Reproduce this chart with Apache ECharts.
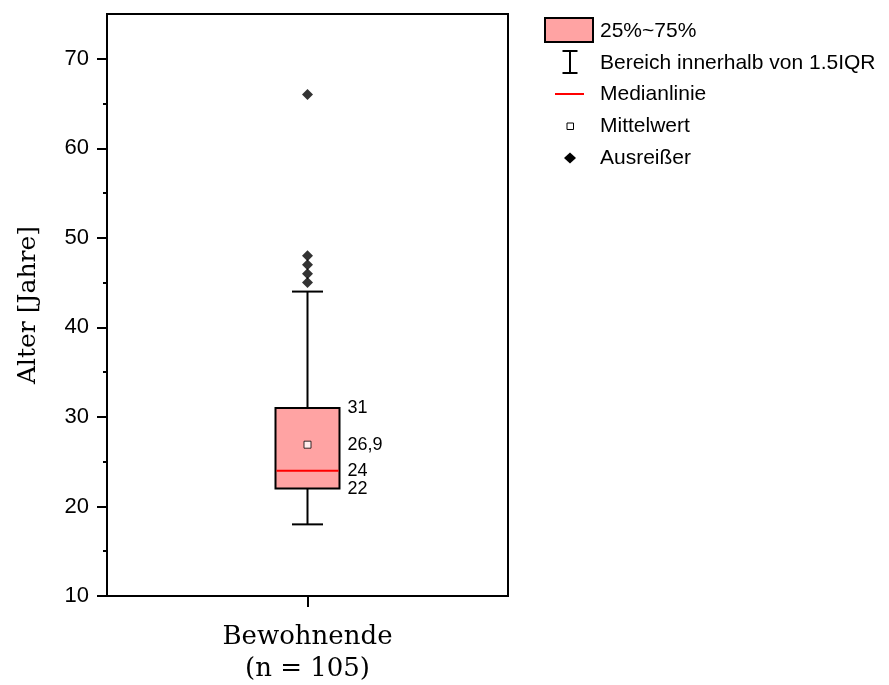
<!DOCTYPE html>
<html>
<head>
<meta charset="utf-8">
<script src="https://cdn.jsdelivr.net/npm/echarts@6/dist/echarts.min.js"></script>
<style>
  html, body { margin: 0; padding: 0; background: #fff; }
  #chart { width: 889px; height: 685px; }
</style>
</head>
<body>
<div id="chart"></div>
<script>
// Age distribution of residents
const categories = ['Bewohnende\n(n = 105)'];
const boxStats = [[18, 22, 24, 31, 44]];      // whisker low, Q1, median, Q3, whisker high
const meanValues = [26.9];
const outlierValues = [[45, 46, 47, 48, 66]];
const yMajorTicks = [10, 20, 30, 40, 50, 60, 70];
const yMinorTicks = [15, 25, 35, 45, 55, 65];
const legendLabels = ['25%~75%', 'Bereich innerhalb von 1.5IQR', 'Medianlinie', 'Mittelwert', 'Ausreißer'];

const SANS = '"Liberation Sans", Arial, sans-serif';
const SERIF = '"DejaVu Serif", serif';
const BOX_FILL = '#ffa3a3';

const fmt = v => String(v).replace('.', ',');

const boxData = boxStats.map((s, i) => [i, ...s]);
const meanData = meanValues.map((m, i) => [i, m]);
const outlierData = [];
outlierValues.forEach((arr, i) => arr.forEach(v => outlierData.push([i, v])));
const labelData = boxStats.map((s, i) => [i, s[1], s[2], s[3], meanValues[i]]);

const chart = echarts.init(document.getElementById('chart'));

function renderBox(params, api) {
  const c = api.value(0);
  const pLow = api.coord([c, api.value(1)]);
  const pQ1 = api.coord([c, api.value(2)]);
  const pMed = api.coord([c, api.value(3)]);
  const pQ3 = api.coord([c, api.value(4)]);
  const pHigh = api.coord([c, api.value(5)]);
  const cx = pQ1[0];
  const half = 32, cap = 15.5;
  const stroke = { stroke: '#000', lineWidth: 2 };
  return {
    type: 'group',
    children: [
      { type: 'line', shape: { x1: cx, y1: pLow[1], x2: cx, y2: pQ1[1] }, style: stroke },
      { type: 'line', shape: { x1: cx, y1: pQ3[1], x2: cx, y2: pHigh[1] }, style: stroke },
      { type: 'line', shape: { x1: cx - cap, y1: pLow[1], x2: cx + cap, y2: pLow[1] }, style: stroke },
      { type: 'line', shape: { x1: cx - cap, y1: pHigh[1], x2: cx + cap, y2: pHigh[1] }, style: stroke },
      { type: 'rect', shape: { x: cx - half, y: pQ3[1], width: half * 2, height: pQ1[1] - pQ3[1] },
        style: { fill: BOX_FILL, stroke: '#000', lineWidth: 2 } },
      { type: 'line', shape: { x1: cx - half + 1, y1: pMed[1], x2: cx + half - 1, y2: pMed[1] },
        style: { stroke: '#ff0000', lineWidth: 2 } }
    ]
  };
}

function renderLabels(params, api) {
  const c = api.value(0);
  const vals = [api.value(1), api.value(2), api.value(3), api.value(4)];
  const children = vals.map(v => {
    const p = api.coord([c, v]);
    return {
      type: 'text',
      style: { text: fmt(v), x: p[0] + 40, y: p[1], verticalAlign: 'middle', align: 'left',
               fill: '#000', font: '18px ' + SANS }
    };
  });
  return { type: 'group', children };
}

// legend drawn as graphic items
const legendX = 600, legendY0 = 31.5, legendStep = 31.6, iconX = 570;
const legendGraphics = [];
legendLabels.forEach((t, i) => {
  legendGraphics.push({
    type: 'text', x: legendX, y: legendY0 + i * legendStep,
    style: { text: t, fill: '#000', font: '21px ' + SANS, verticalAlign: 'middle' }
  });
});
legendGraphics.push(
  { type: 'rect', shape: { x: 545, y: 18, width: 48, height: 24 },
    style: { fill: BOX_FILL, stroke: '#000', lineWidth: 2 } },
  { type: 'group', children: [
    { type: 'line', shape: { x1: iconX, y1: 51, x2: iconX, y2: 73 }, style: { stroke: '#000', lineWidth: 2 } },
    { type: 'line', shape: { x1: iconX - 7.5, y1: 51, x2: iconX + 7.5, y2: 51 }, style: { stroke: '#000', lineWidth: 2 } },
    { type: 'line', shape: { x1: iconX - 7.5, y1: 73, x2: iconX + 7.5, y2: 73 }, style: { stroke: '#000', lineWidth: 2 } }
  ]},
  { type: 'line', shape: { x1: 555, y1: 94, x2: 584, y2: 94 }, style: { stroke: '#ff0000', lineWidth: 2 } },
  { type: 'rect', shape: { x: iconX - 3, y: 123, width: 6.5, height: 6.5 },
    style: { fill: '#fff', stroke: '#000', lineWidth: 1 } },
  { type: 'polygon', shape: { points: [[iconX, 152.5], [iconX + 6, 158], [iconX, 163.5], [iconX - 6, 158]] },
    style: { fill: '#000' } }
);

chart.setOption({
  animation: false,
  backgroundColor: '#fff',
  grid: { left: 107, right: 381, top: 14, bottom: 88, show: true, borderColor: '#000', borderWidth: 2,
          backgroundColor: 'transparent' },
  xAxis: {
    type: 'category',
    data: categories,
    axisLine: { show: true, lineStyle: { color: '#000', width: 2 } },
    axisTick: { show: true, alignWithLabel: true, length: 11, lineStyle: { color: '#000', width: 2 } },
    axisLabel: { color: '#000', fontFamily: SERIF, fontSize: 26, lineHeight: 32, margin: 25 },
    splitLine: { show: false }
  },
  yAxis: [
    {
      type: 'value', min: 10, max: 75, interval: 10,
      name: 'Alter [Jahre]', nameLocation: 'middle', nameGap: 66,
      nameTextStyle: { color: '#000', fontFamily: SERIF, fontSize: 25 },
      axisLine: { show: true, lineStyle: { color: '#000', width: 2 } },
      axisTick: { show: true, length: 10, customValues: yMajorTicks, lineStyle: { color: '#000', width: 2 } },
      axisLabel: { color: '#000', fontFamily: SANS, fontSize: 22, margin: 18, customValues: yMajorTicks },
      splitLine: { show: false }
    },
    {
      type: 'value', min: 10, max: 75, interval: 10, position: 'left',
      axisLine: { show: false },
      axisTick: { show: true, length: 4, customValues: yMinorTicks, lineStyle: { color: '#000', width: 2 } },
      axisLabel: { show: false },
      splitLine: { show: false }
    }
  ],
  series: [
    { type: 'custom', renderItem: renderBox, data: boxData, encode: { x: 0, y: [1, 2, 3, 4, 5] }, z: 2 },
    { type: 'custom', renderItem: renderLabels, data: labelData, encode: { x: 0, y: [1, 2, 3, 4] }, z: 3 },
    { type: 'scatter', data: meanData, symbol: 'rect', symbolSize: 7,
      itemStyle: { color: '#fff', borderColor: '#000', borderWidth: 1 }, z: 4 },
    { type: 'scatter', data: outlierData, symbol: 'diamond', symbolSize: [11, 11],
      itemStyle: { color: '#000' }, z: 4 }
  ],
  graphic: legendGraphics
});
</script>
</body>
</html>
